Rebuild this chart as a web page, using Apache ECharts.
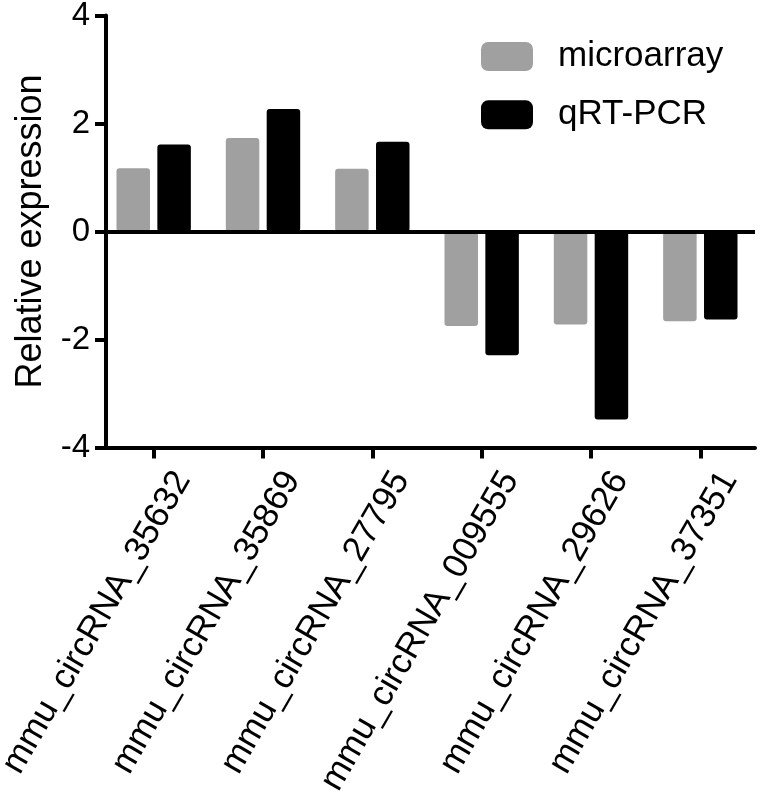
<!DOCTYPE html>
<html>
<head>
<meta charset="utf-8">
<script src="https://cdn.jsdelivr.net/npm/echarts@6/dist/echarts.min.js"></script>
<style>
html,body{margin:0;padding:0;background:#fff;}
#chart{width:760px;height:802px;}
</style>
</head>
<body>
<div id="chart"></div>
<script>
var categories = ['mmu_circRNA_35632','mmu_circRNA_35869','mmu_circRNA_27795','mmu_circRNA_009555','mmu_circRNA_29626','mmu_circRNA_37351'];
var microarray = [1.17, 1.73, 1.16, -1.75, -1.72, -1.66];
var qrtpcr = [1.61, 2.27, 1.66, -2.29, -3.48, -1.63];
var yTicks = [-4, -2, 0, 2, 4];
var seriesNames = ['microarray', 'qRT-PCR'];

var FONT = '"Liberation Sans", Arial, Helvetica, sans-serif';
var chart = echarts.init(document.getElementById('chart'), null, {renderer: 'canvas'});
var option = {
  animation: false,
  backgroundColor: '#ffffff',
  textStyle: {fontFamily: FONT, color: '#000'},
  grid: {left: 99, right: 5, top: 15.5, bottom: 354.5, containLabel: false, outerBoundsMode: 'none'},
  legend: {
    orient: 'vertical',
    left: 481,
    top: 39,
    padding: 0,
    itemWidth: 52,
    itemHeight: 29,
    itemGap: 23.3,
    icon: 'roundRect',
    textStyle: {fontSize: 35, fontFamily: FONT, color: '#000', padding: [0, 0, 0, 20]},
    data: seriesNames
  },
  xAxis: {
    type: 'category',
    data: categories,
    position: 'bottom',
    axisLine: {onZero: false, lineStyle: {color: '#000', width: 4}},
    axisTick: {show: true, alignWithLabel: true, length: 11, lineStyle: {color: '#000', width: 4}},
    axisLabel: {
      interval: 0,
      rotate: 60,
      align: 'right',
      verticalAlign: 'top',
      margin: 10,
      padding: [16, 0, 0, 0],
      fontSize: 35,
      fontFamily: FONT,
      color: '#000'
    },
    splitLine: {show: false}
  },
  yAxis: {
    type: 'value',
    min: yTicks[0],
    max: yTicks[yTicks.length - 1],
    interval: 2,
    offset: -7,
    name: 'Relative expression',
    nameLocation: 'middle',
    nameGap: 57,
    nameTextStyle: {fontSize: 36, fontFamily: FONT, color: '#000'},
    axisLine: {show: true, lineStyle: {color: '#000', width: 4}},
    axisTick: {show: true, length: 11, lineStyle: {color: '#000', width: 4}},
    axisLabel: {fontSize: 33, fontFamily: FONT, color: '#000', margin: 16},
    splitLine: {show: false}
  },
  series: [
    {
      name: seriesNames[0],
      type: 'bar',
      data: microarray,
      barWidth: 33.5,
      barGap: '22%',
      itemStyle: {color: '#a0a0a0', borderRadius: 3},
      markLine: {
        silent: true,
        symbol: 'none',
        label: {show: false},
        lineStyle: {color: '#000', width: 4, type: 'solid'},
        data: [{yAxis: 0}]
      }
    },
    {
      name: seriesNames[1],
      type: 'bar',
      data: qrtpcr,
      barWidth: 33.5,
      barGap: '22%',
      itemStyle: {color: '#000000', borderRadius: 3}
    }
  ]
};
chart.setOption(option);
</script>
</body>
</html>
